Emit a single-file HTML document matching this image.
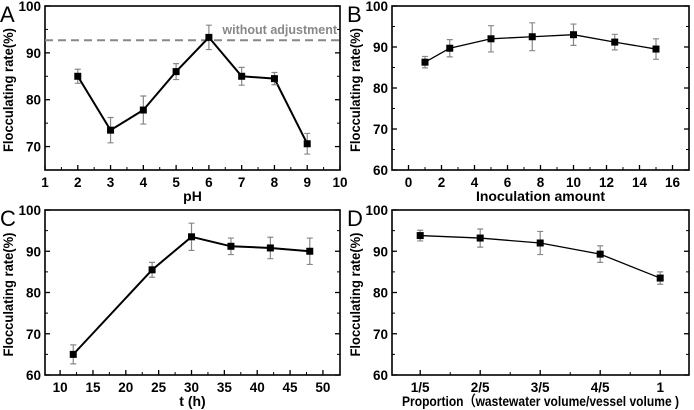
<!DOCTYPE html>
<html><head><meta charset="utf-8"><style>
body{margin:0;background:#fff;}
svg{display:block;font-family:"Liberation Sans",Arial,sans-serif;}
</style></head><body>
<svg id="c" width="694" height="410" viewBox="0 0 694 410"></svg>
<script>
// Panel A data
const aX=[2,3,4,5,6,7,8,9];
const aY=[85,73.5,77.8,86,93.3,85,84.5,70.6];
const aE=[1.5,2.7,3,1.7,2.6,1.9,1.3,2.2];
const aXTicks=[1,2,3,4,5,6,7,8,9,10];
const aYTicks=[70,80,90,100];
const aRef=[92.7];
// Panel B data
const bX=[1,2.5,5,7.5,10,12.5,15];
const bY=[86.3,89.7,92,92.5,93,91.2,89.5];
const bE=[1.4,2.1,3.2,3.4,2.6,1.9,2.5];
const bXTicks=[0,2,4,6,8,10,12,14,16];
const bYTicks=[60,70,80,90,100];
// Panel C data
const cX=[12,24,30,36,42,48];
const cY=[65,85.5,93.5,91.2,90.8,90];
const cE=[2.3,1.8,3.3,2,2.6,3.2];
const cXTicks=[10,15,20,25,30,35,40,45,50];
const cYTicks=[60,70,80,90,100];
// Panel D data
const dCats=["1/5","2/5","3/5","4/5","1"];
const dY=[93.8,93.2,92,89.3,83.5];
const dE=[1.3,2.2,2.8,2,1.5];
const dYTicks=[60,70,80,90,100];

const NS="http://www.w3.org/2000/svg";
const svg=document.getElementById('c');
function mk(tag,attrs,parent,text){const e=document.createElementNS(NS,tag);for(const k in attrs)e.setAttribute(k,attrs[k]);if(text!==undefined)e.textContent=text;(parent||svg).appendChild(e);return e;}

function panel(o){
  const g=mk('g',{});
  
  
  const L=o.box[0],R=o.box[1],T=o.box[2],B=o.box[3];
  const sx=v=>L+(v-o.xd[0])/(o.xd[1]-o.xd[0])*(R-L);
  const sy=v=>B-(v-o.yd[0])/(o.yd[1]-o.yd[0])*(B-T);
  const frame=mk('rect',{x:L,y:T,width:R-L,height:B-T,fill:'none',stroke:'#000','stroke-width':1.6},g);
  
  
  o.yTicks.forEach((v,i)=>{
    const y=sy(v);
    mk('line',{x1:L,x2:L+5,y1:y,y2:y,stroke:'#000','stroke-width':1.3},g);
    mk('line',{x1:R,x2:R-5,y1:y,y2:y,stroke:'#000','stroke-width':1.3},g);
    if(i<o.yTicks.length-1){const ym=sy(v+(o.yTicks[1]-o.yTicks[0])/2);
      mk('line',{x1:L,x2:L+3,y1:ym,y2:ym,stroke:'#000','stroke-width':1},g);
      mk('line',{x1:R,x2:R-3,y1:ym,y2:ym,stroke:'#000','stroke-width':1},g);}
    const t=mk('text',{x:L-4,y:y+5,'text-anchor':'end','font-size':13.5,'font-weight':'bold'},g,String(v));
    
    
  });
  o.xTicks.forEach((v,i)=>{
    const x=sx(v);
    mk('line',{x1:x,x2:x,y1:B,y2:B-5,stroke:'#000','stroke-width':1.3},g);
    if(i<o.xTicks.length-1){const xm=sx(v+o.xStep/2);
      mk('line',{x1:xm,x2:xm,y1:B,y2:B-3,stroke:'#000','stroke-width':1},g);}
    const t=mk('text',{x:x,y:B+17,'text-anchor':'middle','font-size':13.5,'font-weight':'bold'},g,o.xLabels?o.xLabels[i]:String(v));
    
    
  });
  if(o.ref){o.ref.forEach(v=>{
    const l=mk('line',{x1:L,x2:R,y1:sy(v),y2:sy(v),stroke:'#888','stroke-width':2,'stroke-dasharray':'8,5'},g);
    
    
    const t=mk('text',{x:R-3,y:sy(v)-6,'text-anchor':'end','font-size':12.5,'font-weight':'bold',fill:'#888'},g,'without adjustment');
    
    
  });}
  const pts=o.x.map((v,i)=>sx(v)+','+sy(o.y[i])).join(' ');
  const pl=mk('polyline',{points:pts,fill:'none',stroke:'#000','stroke-width':o.lw},g);
  
  
  o.x.forEach((v,i)=>{
    const x=sx(v),y1=sy(o.y[i]+o.e[i]),y2=sy(o.y[i]-o.e[i]);
    const eb=mk('path',{d:`M${x},${y1}V${y2}M${x-3},${y1}H${x+3}M${x-3},${y2}H${x+3}`,stroke:'#888','stroke-width':1.2,fill:'none'},g);
    
    
    const m=mk('rect',{x:x-3.5,y:sy(o.y[i])-3.5,width:7,height:7,fill:'#000'},g);
    
    
  });
  const yt=mk('text',{x:0,y:0,transform:`translate(${L-32},${(T+B)/2+2}) rotate(-90)`,'text-anchor':'middle','font-size':14,'font-weight':'bold',textLength:124,lengthAdjust:'spacingAndGlyphs'},g,'Flocculating rate(%)');
  
  
  const xa={x:(L+R)/2,y:B+31,'text-anchor':'middle','font-size':14,'font-weight':'bold'};
  if(o.xtLen){xa.textLength=o.xtLen;xa.lengthAdjust='spacingAndGlyphs';}
  const xt=mk('text',xa,g,o.xTitle);
  
  
  const pt=mk('text',{x:L-45,y:T+16,'font-size':22},g,o.id);
  
  
}

panel({id:'A',box:[45,340,6,170],xd:[1,10],yd:[65,100],x:aX,y:aY,e:aE,xTicks:aXTicks,xStep:1,yTicks:aYTicks,xTitle:'pH',ref:aRef,lw:2});
panel({id:'B',box:[392,689,6,170],xd:[-1,17],yd:[60,100],x:bX,y:bY,e:bE,xTicks:bXTicks,xStep:2,yTicks:bYTicks,xTitle:'Inoculation amount',lw:1.3});
panel({id:'C',box:[45,340,210,375],xd:[7.7,52.6],yd:[60,100],x:cX,y:cY,e:cE,xTicks:cXTicks,xStep:5,yTicks:cYTicks,xTitle:'t (h)',lw:2});
panel({id:'D',box:[392,689,210,375],xd:[-0.47,4.48],yd:[60,100],x:dCats.map((c,i)=>i),y:dY,e:dE,xTicks:dCats.map((c,i)=>i),xLabels:dCats,xStep:1,yTicks:dYTicks,xTitle:'Proportion（wastewater volume/vessel volume )',xtLen:277,lw:1.3});
</script>
</body></html>
